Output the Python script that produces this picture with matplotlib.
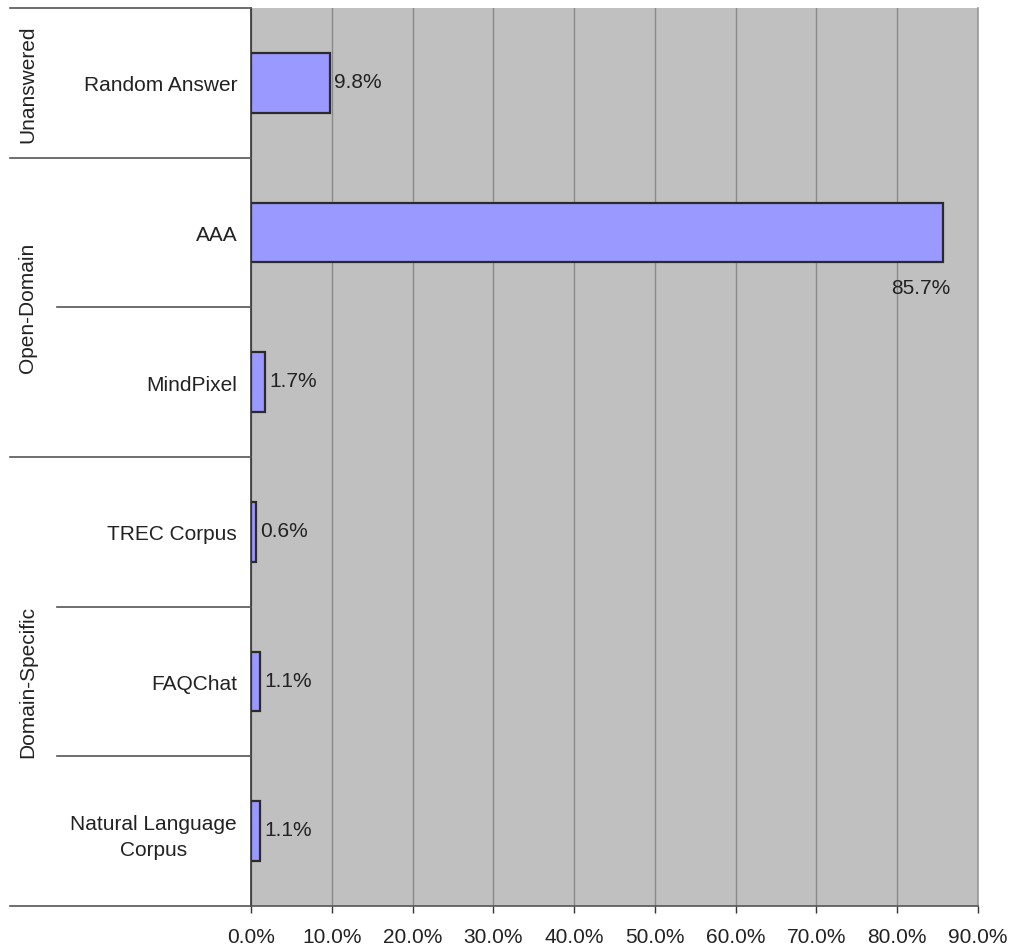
import matplotlib

matplotlib.use("Agg")
import matplotlib.pyplot as plt
from matplotlib.transforms import blended_transform_factory

categories = ["Random Answer", "AAA", "MindPixel", "TREC Corpus", "FAQChat",
              "Natural Language\nCorpus"]
values = [9.8, 85.7, 1.7, 0.6, 1.1, 1.1]
value_labels = ["9.8%", "85.7%", "1.7%", "0.6%", "1.1%", "1.1%"]
groups = ["Unanswered", "Open-Domain", "Domain-Specific"]
group_sizes = [1, 2, 3]
x_ticks = [0, 10, 20, 30, 40, 50, 60, 70, 80, 90]

FS = 15
TXT = "#222222"
plt.rcParams["font.family"] = ["Liberation Sans", "DejaVu Sans"]
W, H = 1012, 953
fig = plt.figure(figsize=(W / 100, H / 100), dpi=100)
ax = fig.add_axes([251 / W, (H - 907) / H, (978 - 251) / W, (907 - 9) / H])

n = len(categories)
ypos = [i + 0.5 for i in range(n)]
ax.set_facecolor("#C0C0C0")
ax.set_xlim(0, 90)
ax.set_ylim(n, 0)
ax.set_axisbelow(True)
ax.grid(axis="x", color="#8a8a8a", linewidth=1.0)
ax.barh(ypos, values, height=0.4, color="#9999FF", edgecolor="#2a2a2a", linewidth=1.6)

for y, v, lab in zip(ypos, values, value_labels):
    if v > 50:
        ax.annotate(lab, (v, y + 0.2), xytext=(5, -11), textcoords="offset points",
                    ha="right", va="top", fontsize=FS, color=TXT)
    else:
        ax.annotate(lab, (v, y), xytext=(3, 1), textcoords="offset points",
                    ha="left", va="center", fontsize=FS, color=TXT)

ax.set_yticks(ypos)
ax.set_yticklabels(categories, fontsize=FS, color=TXT, multialignment="center",
                   linespacing=1.45)
ax.tick_params(axis="y", length=0, pad=10)
ax.set_xticks(x_ticks)
ax.set_xticklabels([f"{t:.1f}%" for t in x_ticks], fontsize=FS, color=TXT)
ax.tick_params(axis="x", direction="out", length=5, width=1, color="#333333", pad=10)

ax.spines["top"].set_visible(False)
ax.spines["right"].set_color("#999999")
ax.spines["right"].set_linewidth(1.2)
ax.spines["left"].set_color("#333333")
ax.spines["left"].set_linewidth(1.2)
ax.spines["bottom"].set_color("#555555")
ax.spines["bottom"].set_linewidth(1.2)

# separators in the label column
trans = blended_transform_factory(fig.transFigure, ax.transData)
left_full = 10 / W
left_inner = 57 / W
right = 251 / W
boundaries = [0]
for s in group_sizes:
    boundaries.append(boundaries[-1] + s)
for i in range(n + 1):
    x0 = left_full if i in boundaries else left_inner
    fig.add_artist(plt.Line2D([x0, right], [i, i], transform=trans,
                              color="#555555", linewidth=1.2))

start = 0
for g, s in zip(groups, group_sizes):
    fig.text(28 / W, start + s / 2, g, transform=trans, rotation=90,
             ha="center", va="center", fontsize=FS, color=TXT)
    start += s

fig.savefig("out.png", dpi=100)
